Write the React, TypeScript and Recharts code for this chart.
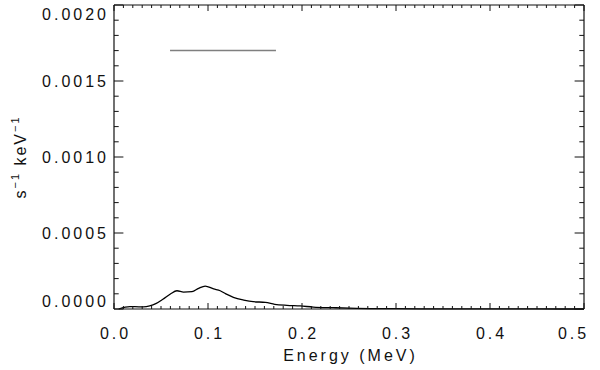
import { LineChart, Line, XAxis, YAxis } from 'recharts'

// spectrum (energy in MeV, rate in s^-1 keV^-1)
const energy = [0.005, 0.017, 0.022, 0.031, 0.038, 0.045, 0.052, 0.06, 0.067, 0.074, 0.083, 0.09, 0.097, 0.106, 0.113, 0.119, 0.127, 0.138, 0.148, 0.161, 0.171, 0.184, 0.198, 0.212, 0.233, 0.258, 0.3, 0.35, 0.4, 0.45, 0.5]
const rate = [0, 0.000015, 0.000015, 0.000014, 0.00002, 0.000037, 0.000064, 0.000099, 0.00012, 0.000111, 0.000114, 0.000136, 0.000151, 0.000132, 0.00012, 0.000099, 0.000077, 0.000059, 0.000048, 0.000044, 0.000031, 0.000024, 0.00002, 0.000013, 0.0000086, 0.0000046, 0.000002, 0.000001, 0.0000005, 0.0000002, 0]

// grey horizontal bar near the top
const markerEnergy = [0.0596, 0.1723]
const markerLevel = 0.0017

const energyLabels = ['0.0', '0.1', '0.2', '0.3', '0.4', '0.5']
const rateLabels = ['0.0000', '0.0005', '0.0010', '0.0015', '0.0020']

const curve = energy.map((e, i) => ({ e, v: rate[i] }))
const marker = markerEnergy.map((e) => ({ e, v: markerLevel }))

const xTicks = Array.from({ length: 51 }, (_, i) => i / 100)
const yTicks = Array.from({ length: 21 }, (_, i) => i / 10000)

const ink = '#111'
const font = {
  fontFamily: '"Liberation Sans", Arial, sans-serif',
  fontSize: 16,
  letterSpacing: 3,
  fill: ink,
}

const xStep = (v: number) => Math.round(v * 100)
const yStep = (v: number) => Math.round(v * 10000)

function BottomTick({ x, y, payload }: any) {
  const s = xStep(payload.value)
  const major = s % 10 === 0
  const n = s / 10
  const dx = n === 5 ? -12 : 0
  return (
    <g>
      <line x1={x} x2={x} y1={y} y2={y - (major ? 6 : 3)} stroke={ink} />
      {major && (
        <text x={x + dx + 1.5} y={y + 30} textAnchor="middle" {...font}>
          {energyLabels[n]}
        </text>
      )}
    </g>
  )
}

function TopTick({ x, y, payload }: any) {
  const major = xStep(payload.value) % 10 === 0
  return <line x1={x} x2={x} y1={y} y2={y + (major ? 6 : 3)} stroke={ink} />
}

function LeftTick({ x, y, payload }: any) {
  const s = yStep(payload.value)
  const major = s % 5 === 0
  const n = s / 5
  const dy = n === 4 ? 9 : n === 0 ? -8 : 0
  return (
    <g>
      <line x1={x} x2={x + (major ? 9.4 : 4.7)} y1={y} y2={y} stroke={ink} />
      {major && (
        <text x={x - 5} y={y + dy + 6} textAnchor="end" {...font}>
          {rateLabels[n]}
        </text>
      )}
    </g>
  )
}

function RightTick({ x, y, payload }: any) {
  const major = yStep(payload.value) % 5 === 0
  return <line x1={x} x2={x - (major ? 9.4 : 4.7)} y1={y} y2={y} stroke={ink} />
}

function XTitle({ viewBox }: any) {
  return (
    <text x={viewBox.x + viewBox.width / 2 + 1.5} y={viewBox.y + 52} textAnchor="middle" {...font}>
      Energy (MeV)
    </text>
  )
}

function YTitle({ viewBox }: any) {
  const cx = viewBox.x + 12
  const cy = viewBox.y + viewBox.height / 2
  return (
    <text transform={`translate(${cx},${cy}) rotate(-90)`} textAnchor="middle" {...font} letterSpacing={2}>
      s
      <tspan dy={-7} fontSize={11}>−1</tspan>
      <tspan dy={7}> keV</tspan>
      <tspan dy={-7} fontSize={11}>−1</tspan>
    </text>
  )
}

export default function App() {
  const axisLine = { stroke: ink, strokeWidth: 1.2 }
  return (
    <div style={{ position: 'absolute', left: 0, top: 0, background: '#fff' }}>
      <LineChart width={600} height={370} margin={{ top: 4, right: 15, bottom: 11, left: 14 }}>
        <XAxis
          dataKey="e"
          type="number"
          domain={[0, 0.5]}
          ticks={xTicks}
          interval={0}
          height={50}
          tickSize={0}
          tickMargin={0}
          axisLine={axisLine}
          tickLine={false}
          tick={BottomTick}
          label={{ content: XTitle }}
        />
        <XAxis
          xAxisId="top"
          orientation="top"
          dataKey="e"
          type="number"
          domain={[0, 0.5]}
          ticks={xTicks}
          interval={0}
          height={1}
          tickSize={0}
          tickMargin={0}
          axisLine={axisLine}
          tickLine={false}
          tick={TopTick}
        />
        <YAxis
          dataKey="v"
          type="number"
          domain={[0, 0.002]}
          ticks={yTicks}
          interval={0}
          width={100}
          tickSize={0}
          tickMargin={0}
          axisLine={axisLine}
          tickLine={false}
          tick={LeftTick}
          label={{ content: YTitle }}
        />
        <YAxis
          yAxisId="right"
          orientation="right"
          dataKey="v"
          type="number"
          domain={[0, 0.002]}
          ticks={yTicks}
          interval={0}
          width={1}
          tickSize={0}
          tickMargin={0}
          axisLine={axisLine}
          tickLine={false}
          tick={RightTick}
        />
        <Line
          data={curve}
          dataKey="v"
          type="monotone"
          stroke="#000"
          strokeWidth={1.3}
          dot={false}
          isAnimationActive={false}
        />
        <Line
          data={marker}
          dataKey="v"
          xAxisId="top"
          yAxisId="right"
          type="linear"
          stroke="#7f7f7f"
          strokeWidth={1.5}
          dot={false}
          isAnimationActive={false}
        />
      </LineChart>
    </div>
  )
}
